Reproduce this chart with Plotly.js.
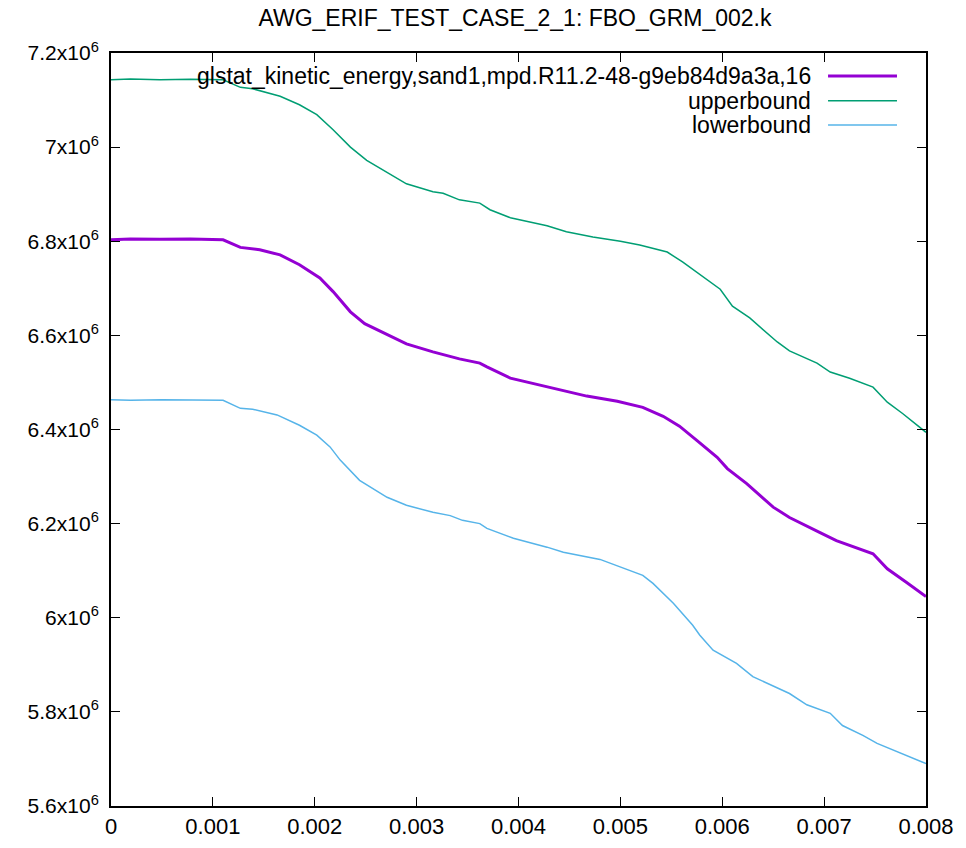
<!DOCTYPE html>
<html>
<head>
<meta charset="utf-8">
<script src="https://cdn.plot.ly/plotly-3.0.1.min.js"></script>
<style>html,body{margin:0;padding:0;background:#fff;}#chart{width:966px;height:848px;}</style>
</head>
<body>
<div id="chart"></div>
<script>
const chartTitle = "AWG_ERIF_TEST_CASE_2_1: FBO_GRM_002.k";
const seriesNames = ["glstat_kinetic_energy,sand1,mpd.R11.2-48-g9eb84d9a3a,16", "upperbound", "lowerbound"];

const mainTime = [0, 0.00019, 0.00048, 0.00078, 0.0011, 0.00127, 0.00146, 0.00166, 0.00185, 0.00205, 0.00218, 0.00235, 0.00249, 0.00264, 0.0029, 0.00316, 0.00342, 0.00362, 0.00369, 0.00392, 0.00414, 0.00441, 0.00467, 0.00497, 0.00522, 0.00542, 0.00558, 0.00575, 0.00595, 0.00605, 0.00624, 0.0065, 0.00666, 0.00696, 0.00712, 0.00748, 0.00762, 0.00781, 0.008];
const mainEnergy = [6.803e6, 6.805e6, 6.804e6, 6.805e6, 6.803e6, 6.787e6, 6.782e6, 6.771e6, 6.750e6, 6.722e6, 6.693e6, 6.650e6, 6.625e6, 6.609e6, 6.582e6, 6.565e6, 6.550e6, 6.541e6, 6.533e6, 6.509e6, 6.498e6, 6.483e6, 6.471e6, 6.460e6, 6.447e6, 6.428e6, 6.407e6, 6.377e6, 6.341e6, 6.317e6, 6.285e6, 6.235e6, 6.213e6, 6.181e6, 6.164e6, 6.136e6, 6.104e6, 6.075e6, 6.045e6];

const upperTime = [0, 0.00019, 0.00048, 0.00078, 0.0011, 0.00127, 0.00139, 0.00166, 0.00185, 0.00202, 0.00218, 0.00235, 0.00251, 0.00267, 0.00284, 0.0029, 0.00316, 0.00326, 0.00342, 0.00362, 0.00372, 0.00392, 0.00428, 0.00447, 0.00473, 0.005, 0.00519, 0.00546, 0.00561, 0.00581, 0.00598, 0.0061, 0.00627, 0.00654, 0.00666, 0.00693, 0.00706, 0.00725, 0.00748, 0.00762, 0.00777, 0.008];
const upperEnergy = [7.143e6, 7.145e6, 7.143e6, 7.144e6, 7.143e6, 7.127e6, 7.124e6, 7.108e6, 7.090e6, 7.069e6, 7.037e6, 7.000e6, 6.972e6, 6.951e6, 6.930e6, 6.922e6, 6.905e6, 6.902e6, 6.888e6, 6.881e6, 6.867e6, 6.850e6, 6.833e6, 6.820e6, 6.809e6, 6.800e6, 6.792e6, 6.777e6, 6.756e6, 6.724e6, 6.698e6, 6.662e6, 6.637e6, 6.586e6, 6.567e6, 6.541e6, 6.522e6, 6.509e6, 6.490e6, 6.458e6, 6.434e6, 6.394e6];

const lowerTime = [0, 0.00019, 0.0005, 0.0008, 0.0011, 0.00127, 0.00139, 0.00163, 0.00185, 0.00202, 0.00215, 0.00225, 0.00244, 0.00271, 0.0029, 0.00316, 0.00333, 0.00345, 0.00362, 0.00369, 0.00382, 0.00395, 0.00428, 0.00444, 0.0048, 0.00502, 0.00522, 0.00532, 0.00552, 0.00571, 0.00578, 0.00591, 0.00614, 0.0063, 0.00666, 0.00683, 0.00706, 0.00718, 0.00738, 0.00752, 0.00767, 0.008];
const lowerEnergy = [6.463e6, 6.462e6, 6.463e6, 6.462e6, 6.462e6, 6.445e6, 6.443e6, 6.431e6, 6.409e6, 6.388e6, 6.363e6, 6.335e6, 6.292e6, 6.256e6, 6.239e6, 6.224e6, 6.217e6, 6.207e6, 6.200e6, 6.190e6, 6.179e6, 6.169e6, 6.150e6, 6.139e6, 6.124e6, 6.107e6, 6.090e6, 6.073e6, 6.031e6, 5.984e6, 5.963e6, 5.931e6, 5.903e6, 5.875e6, 5.839e6, 5.815e6, 5.797e6, 5.771e6, 5.750e6, 5.733e6, 5.720e6, 5.690e6];

const xTickVals = [0, 0.001, 0.002, 0.003, 0.004, 0.005, 0.006, 0.007, 0.008];
const xTickText = ["0", "0.001", "0.002", "0.003", "0.004", "0.005", "0.006", "0.007", "0.008"];
const yTickVals = [5.6e6, 5.8e6, 6.0e6, 6.2e6, 6.4e6, 6.6e6, 6.8e6, 7.0e6, 7.2e6];
const yTickText = ["5.6x10<sup>6</sup>", "5.8x10<sup>6</sup>", "6x10<sup>6</sup>", "6.2x10<sup>6</sup>", "6.4x10<sup>6</sup>", "6.6x10<sup>6</sup>", "6.8x10<sup>6</sup>", "7x10<sup>6</sup>", "7.2x10<sup>6</sup>"];

const colors = ["#9400d3", "#009e73", "#56b4e9"];
const widths = [3, 1.5, 1.5];

const FONT = "Liberation Sans, Arial, sans-serif";

const traces = [
  {x: mainTime, y: mainEnergy, name: seriesNames[0]},
  {x: upperTime, y: upperEnergy, name: seriesNames[1]},
  {x: lowerTime, y: lowerEnergy, name: seriesNames[2]}
].map((t, i) => Object.assign(t, {type: "scatter", mode: "lines", line: {color: colors[i], width: widths[i]}, hoverinfo: "x+y+name"}));

// gnuplot-style key: text right-aligned with line sample to its right
const keyY = [0.9695, 0.9367, 0.9044];
const annotations = seriesNames.map((n, i) => ({
  xref: "paper", yref: "paper", x: 0.8613, y: keyY[i], xanchor: "right", yanchor: "middle",
  text: n, showarrow: false, font: {family: FONT, size: 23, color: "#000"}
}));
const shapes = seriesNames.map((n, i) => ({
  type: "line", xref: "paper", yref: "paper", x0: 0.8798, x1: 0.9644, y0: keyY[i], y1: keyY[i],
  line: {color: colors[i], width: widths[i]}
}));

const axisCommon = {
  showgrid: false, zeroline: false, showline: true, linecolor: "#000", linewidth: 2,
  mirror: "allticks", ticks: "inside", ticklen: 9, tickwidth: 1, tickcolor: "#000",
  tickfont: {family: FONT, size: 22, color: "#000"}, automargin: false
};

const layout = {
  width: 966, height: 848,
  margin: {l: 111, r: 40, t: 53, b: 42, pad: 0},
  paper_bgcolor: "#fff", plot_bgcolor: "#fff",
  showlegend: false,
  title: {text: chartTitle, xref: "paper", x: 0.4957, xanchor: "center", yref: "container", y: 0.979, yanchor: "middle", font: {family: FONT, size: 23, color: "#000"}},
  xaxis: Object.assign({}, axisCommon, {range: [0, 0.008], tickmode: "array", tickvals: xTickVals, ticktext: xTickText}),
  yaxis: Object.assign({}, axisCommon, {range: [5.6e6, 7.2e6], tickmode: "array", tickvals: yTickVals, ticktext: yTickText, tickfont: {family: FONT, size: 21, color: "#000"}, ticklabelstandoff: 6}),
  annotations: annotations,
  shapes: shapes
};

Plotly.newPlot("chart", traces, layout, {displayModeBar: false, staticPlot: true});
</script>
</body>
</html>
